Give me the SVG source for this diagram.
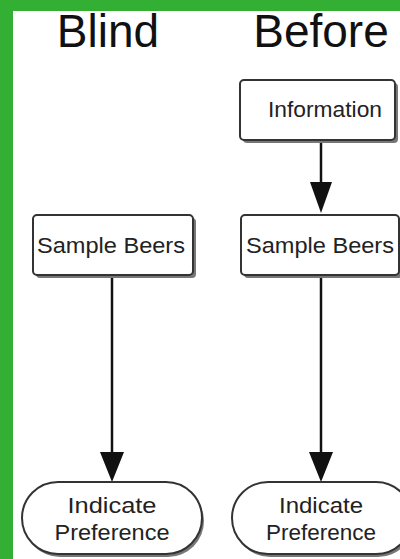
<svg xmlns="http://www.w3.org/2000/svg" width="400" height="559" viewBox="0 0 400 559">
<style>
.title{font-family:"Liberation Sans",Arial,sans-serif;font-size:46px;fill:#111}
.lbl{font-family:"Liberation Sans",Arial,sans-serif;font-size:22px;fill:#222;text-anchor:middle}
.box{fill:#fff;stroke:#333;stroke-width:2}
.shadow{fill:#777}
.conn{stroke:#111;stroke-width:2.5;fill:none}
</style>
<defs>
<marker id="arr" markerWidth="22" markerHeight="30" refX="11" refY="30" orient="auto-start-reverse" markerUnits="userSpaceOnUse" viewBox="0 0 22 30">
<path d="M0,0 L22,0 L11,30 Z" fill="#111"/>
</marker>
</defs>
<rect x="0" y="0" width="400" height="559" fill="#fff"/>
<rect x="0" y="0" width="400" height="11" fill="#33b033"/>
<rect x="0" y="0" width="13" height="559" fill="#33b033"/>
<text class="title" x="108" y="47" text-anchor="middle">Blind</text>
<text class="title" x="321" y="47" text-anchor="middle">Before</text>
<g id="connectors">
<line class="conn" x1="321" y1="141" x2="321" y2="183"/>
<path d="M310,182 L332,182 L321,213 Z" fill="#111"/>
<line class="conn" x1="112" y1="276" x2="112" y2="454"/>
<path d="M100,452 L124,452 L112,482 Z" fill="#111"/>
<line class="conn" x1="321" y1="276" x2="321" y2="454"/>
<path d="M309,452 L333,452 L321,482 Z" fill="#111"/>
</g>
<g id="information">
<rect class="shadow" x="243" y="83" width="155" height="60" rx="4"/>
<rect class="box" x="240" y="80" width="155" height="60" rx="4"/>
<text class="lbl" x="325" y="117" textLength="114" lengthAdjust="spacingAndGlyphs">Information</text>
</g>
<g id="sample-blind">
<rect class="shadow" x="36" y="218" width="160" height="60" rx="4"/>
<rect class="box" x="33" y="215" width="160" height="60" rx="4"/>
<text class="lbl" x="111" y="253" textLength="148" lengthAdjust="spacingAndGlyphs">Sample Beers</text>
</g>
<g id="sample-before">
<rect class="shadow" x="244" y="218" width="158" height="60" rx="4"/>
<rect class="box" x="241" y="215" width="158" height="60" rx="4"/>
<text class="lbl" x="320" y="253" textLength="148" lengthAdjust="spacingAndGlyphs">Sample Beers</text>
</g>
<g id="pref-blind">
<rect class="shadow" x="24" y="485" width="180" height="72" rx="36"/>
<rect class="box" x="22" y="482" width="180" height="72" rx="36"/>
<text class="lbl" x="112" y="513" textLength="89" lengthAdjust="spacingAndGlyphs">Indicate</text>
<text class="lbl" x="112" y="540" textLength="115" lengthAdjust="spacingAndGlyphs">Preference</text>
</g>
<g id="pref-before">
<rect class="shadow" x="234" y="485" width="180" height="72" rx="36"/>
<rect class="box" x="232" y="482" width="180" height="72" rx="36"/>
<text class="lbl" x="321" y="513" textLength="84" lengthAdjust="spacingAndGlyphs">Indicate</text>
<text class="lbl" x="321" y="540" textLength="110" lengthAdjust="spacingAndGlyphs">Preference</text>
</g>
</svg>
